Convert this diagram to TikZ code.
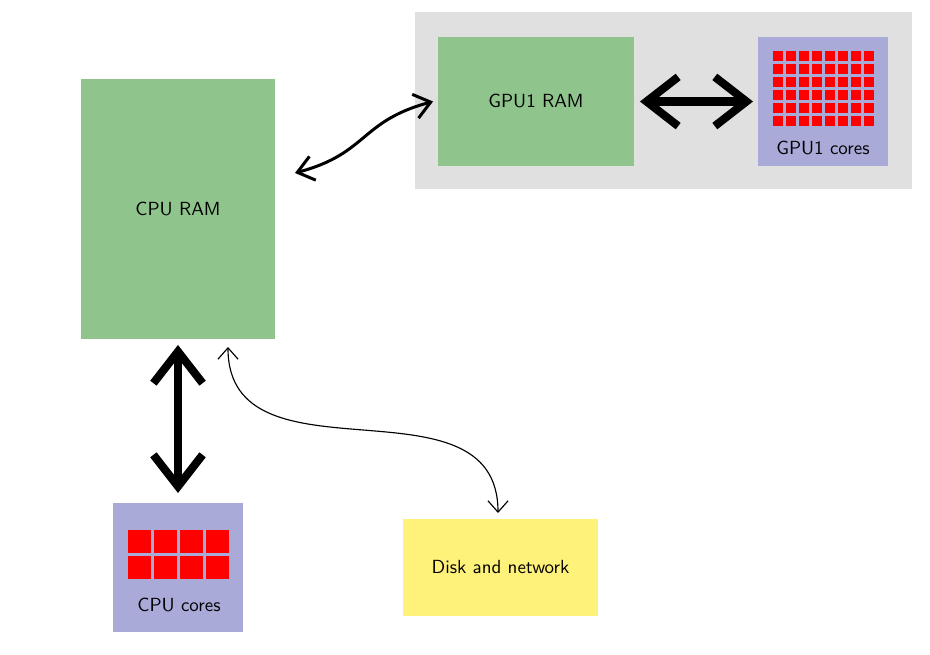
\documentclass[tikz,border=0pt]{standalone}
\usetikzlibrary{arrows.meta}
\definecolor{ramgreen}{RGB}{143,196,141}
\definecolor{corelav}{RGB}{169,170,216}
\definecolor{diskyel}{RGB}{255,242,122}
\definecolor{bggray}{RGB}{224,224,224}
\begin{document}
\begin{tikzpicture}[x=0.02cm,y=0.02cm,
  box/.style={inner sep=0pt, outer sep=0pt, font=\sffamily\fontsize{10.8}{13}\selectfont},
  ram/.style={box, fill=ramgreen},
  cores/.style={box, fill=corelav, minimum width=2.6cm, minimum height=2.58cm},
  lbl/.style={inner sep=0pt, font=\sffamily\fontsize{10.8}{13}\selectfont},
  corecell/.style={fill=red},
  bigarrow/.style={line width=4.6pt, arrows={Straight Barb[length=18pt,width=28pt]-Straight Barb[length=18pt,width=28pt]}},
  midarrow/.style={line width=1.7pt, arrows={Straight Barb[length=9pt,width=14pt]-Straight Barb[length=9pt,width=14pt]}},
  thinarrow/.style={line width=0.65pt, arrows={Straight Barb[length=6.5pt,width=11.5pt]-Straight Barb[length=6.5pt,width=11.5pt]}}
]
\useasboundingbox (0,0) rectangle (930,-655);
% GPU area
\node[fill=bggray, inner sep=0pt, minimum width=9.94cm, minimum height=3.54cm] (gpubg) at (663.5,-100.5) {};
\node[ram, minimum width=3.92cm, minimum height=2.58cm] (gpuram) at (536,-101.5) {GPU1 RAM};
\node[cores] (gpucores) at (823,-101.5) {};
\node[lbl] (gpulabel) at (823,-148) {GPU1 cores};
\foreach \i in {0,...,7} \foreach \j in {0,...,5}
  \fill[corecell] (773+13*\i,-51-13*\j) rectangle ++(10.3,-10.3);
% CPU RAM
\node[ram, minimum width=3.88cm, minimum height=5.2cm] (cpuram) at (178,-209) {CPU RAM};
% CPU cores
\node[cores] (cpucores) at (178,-567.5) {};
\node[lbl] (cpulabel) at (179,-605) {CPU cores};
\foreach \i in {0,...,3} \foreach \j in {0,1}
  \fill[corecell] (128+26*\i,-530-26*\j) rectangle ++(23,-23);
% Disk
\node[box, fill=diskyel, minimum width=3.9cm, minimum height=1.94cm] (disk) at (500.5,-567.5) {Disk and network};
% Connectors
\draw[bigarrow, shorten <=0.12cm, shorten >=0.2cm] (cpuram.south) -- (cpucores.north);
\draw[bigarrow, shorten <=0.12cm, shorten >=0.1cm] (gpuram.east) -- (gpucores.west);
\draw[midarrow] ([shift={(20,36)}]cpuram.east) to[out=15,in=195,looseness=1.25] ([xshift=-0.1cm]gpuram.west);
\draw[thinarrow] ([shift={(50,-8)}]cpuram.south) to[out=-90,in=90,looseness=1.15] ([shift={(-2.5,6)}]disk.north);
\end{tikzpicture}
\end{document}
